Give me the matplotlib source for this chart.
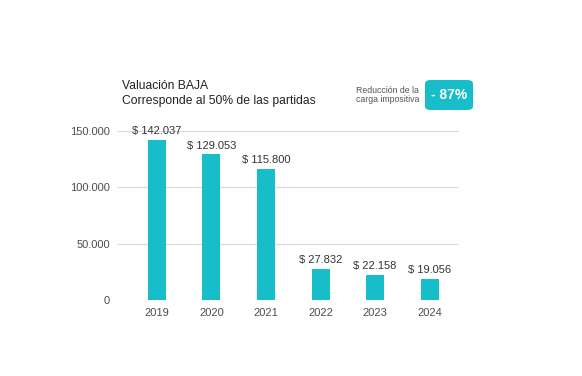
import matplotlib.pyplot as plt
from matplotlib.patches import FancyBboxPatch

years = ["2019", "2020", "2021", "2022", "2023", "2024"]
values = [142037, 129053, 115800, 27832, 22158, 19056]
yticks = [0, 50000, 100000, 150000]

teal = "#17bdc8"
plt.rcParams["font.family"] = ["Liberation Sans", "DejaVu Sans"]

def fmt(v):
    return f"{v:,}".replace(",", ".")

fig = plt.figure(figsize=(5.82, 3.76), dpi=100)
ax = fig.add_axes([0.203, 0.202, 0.584, 0.450])

x = range(len(years))
ax.bar(x, values, width=0.33, color=teal, zorder=3)
for i, v in zip(x, values):
    ax.text(i, v + 3500, "$ " + fmt(v), ha="center", va="bottom",
            fontsize=8, color="#333333")

ax.set_xlim(-0.71, 5.52)
ax.set_ylim(0, 150000)
ax.set_xticks(list(x))
ax.set_xticklabels(years)
ax.set_yticks(yticks)
ax.set_yticklabels([fmt(t) for t in yticks])
ax.tick_params(length=0, labelsize=8, labelcolor="#4d4d4d", pad=6)
ax.yaxis.grid(True, color="#d9d9d9", linewidth=0.8, zorder=0)
ax.yaxis.get_gridlines()[-1].set_clip_on(False)
for s in ax.spines.values():
    s.set_visible(False)

fig.text(122 / 582, 1 - 86 / 376, "Valuación BAJA", fontsize=8.7, color="#222222",
         va="center")
fig.text(122 / 582, 1 - 101 / 376, "Corresponde al 50% de las partidas", fontsize=8.7,
         color="#222222", va="center")

fig.text(419 / 582, 1 - 95 / 376, "Reducción de la\ncarga impositiva", fontsize=6.3,
         color="#555555", ha="right", va="center", linespacing=0.9)
badge = FancyBboxPatch((425 / 582, 1 - 110 / 376), 48 / 582, 30 / 376,
                       boxstyle="round,pad=0,rounding_size=0.01",
                       transform=fig.transFigure, facecolor=teal, edgecolor="none")
fig.patches.append(badge)
fig.text(449 / 582, 1 - 95 / 376, "- 87%", fontsize=10, fontweight="bold",
         color="white", ha="center", va="center")

fig.savefig("out.png", dpi=100)
